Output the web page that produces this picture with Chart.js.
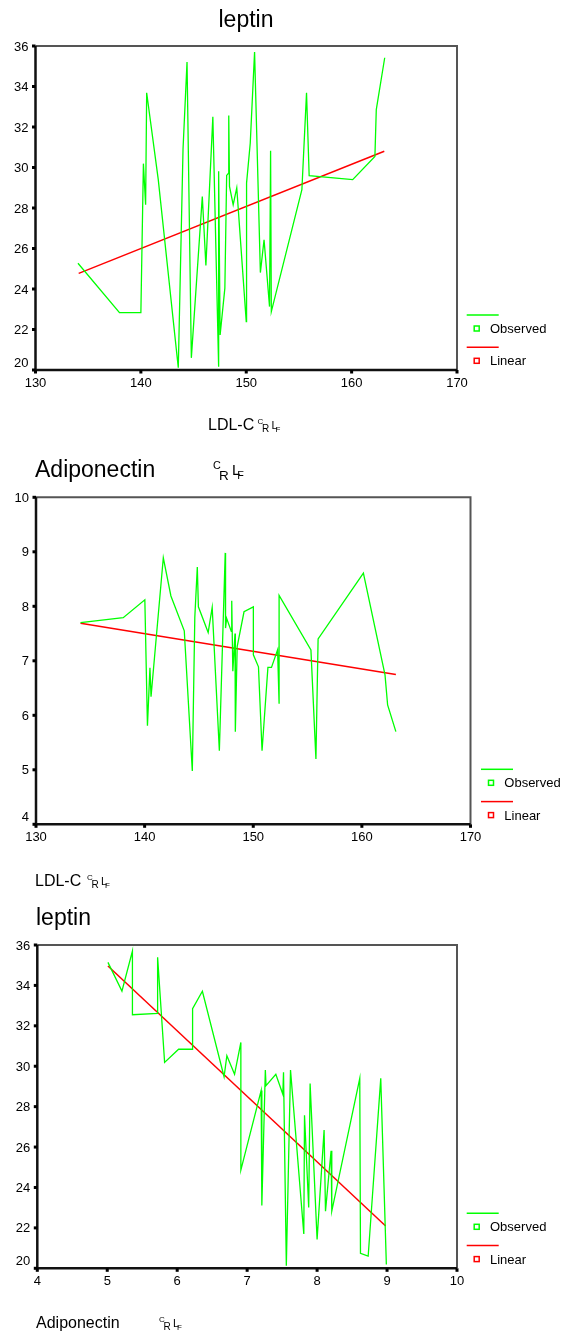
<!DOCTYPE html>
<html>
<head>
<meta charset="utf-8">
<script src="https://cdn.jsdelivr.net/npm/chart.js@4.4.0/dist/chart.umd.min.js"></script>
<style>
  html, body { margin: 0; padding: 0; background: #fff; }
  #page { position: relative; width: 569px; height: 1332px; }
  canvas { position: absolute; left: 0; }
</style>
</head>
<body>
<div id="page">
  <canvas id="c1" width="569" height="440" style="top:0"></canvas>
  <canvas id="c2" width="569" height="450" style="top:440px"></canvas>
  <canvas id="c3" width="569" height="442" style="top:890px"></canvas>
</div>
<script>
// tick labels
const ldlTicks = [130, 140, 150, 160, 170];
const leptinTicks = [20, 22, 24, 26, 28, 30, 32, 34, 36];
const adipoTicks = [4, 5, 6, 7, 8, 9, 10];

// chart 1: leptin vs LDL-C
const ldlX1 = [134.03, 137.97, 140.0, 140.24, 140.45, 140.55, 141.65, 143.55, 144.0, 144.38, 144.79, 145.83, 146.17, 146.83,
  147.38, 147.38, 147.52, 147.97, 148.14, 148.34, 148.34, 148.41, 148.76, 149.1, 150.0, 150.03, 150.38, 150.79,
  151.34, 151.69, 152.21, 152.31, 152.38, 155.28, 155.72, 155.97, 160.1, 162.21, 162.34, 163.14];
const leptinY1 = [25.27, 22.83, 22.83, 30.19, 28.16, 33.69, 29.4, 20.11, 30.9, 35.21, 20.6, 28.57, 25.16, 32.5,
  20.16, 29.81, 21.73, 24.04, 29.61, 29.73, 32.57, 29.07, 28.16, 28.99, 22.39, 29.23, 31.21, 35.7,
  24.81, 26.43, 23.13, 30.83, 22.88, 28.9, 33.69, 29.6, 29.4, 30.55, 32.86, 35.42];
const fitX1 = [134.1, 163.1];
const fitY1 = [24.77, 30.8];

// chart 2: Adiponectin vs LDL-C
const ldlX2 = [134.1, 138.03, 140.02, 140.26, 140.49, 140.59, 141.72, 142.42, 143.65, 144.39, 144.62, 144.85, 144.95,
  145.85, 146.22, 146.88, 147.42, 147.45, 147.55, 147.98, 148.02, 148.12, 148.32, 148.35, 148.52, 149.15,
  150.01, 150.01, 150.48, 150.81, 151.35, 151.68, 152.24, 152.38, 152.38, 155.31, 155.77, 155.97, 160.14,
  162.13, 162.37, 163.13];
const adipoY2 = [7.70, 7.79, 8.12, 5.81, 6.87, 6.34, 8.89, 8.19, 7.55, 4.98, 7.8, 8.72, 7.99,
  7.52, 7.98, 5.35, 8.98, 7.6, 7.78, 7.54, 8.1, 6.81, 7.5, 5.7, 7.26, 7.9,
  7.99, 7.11, 6.89, 5.35, 6.88, 6.88, 7.2, 6.21, 8.2, 7.2, 5.2, 7.4, 8.61,
  6.74, 6.19, 5.7];
const fitX2 = [134.1, 163.13];
const fitY2 = [7.69, 6.75];

// chart 3: leptin vs Adiponectin
const adipoX3 = [5.01, 5.21, 5.36, 5.36, 5.72, 5.72, 5.82, 6.02, 6.22, 6.22, 6.36, 6.67, 6.71, 6.82, 6.91, 6.91,
  7.2, 7.21, 7.26, 7.27, 7.41, 7.51, 7.52, 7.56, 7.62, 7.81, 7.82, 7.88, 7.9, 8.0, 8.1, 8.12, 8.2, 8.21,
  8.61, 8.62, 8.73, 8.91, 8.99];
const leptinY3 = [35.14, 33.72, 35.7, 32.55, 32.62, 35.39, 30.19, 30.84, 30.84, 32.85, 33.71, 29.48, 30.52, 29.6, 31.18, 24.86,
  28.8, 23.11, 29.81, 29.04, 29.6, 28.61, 29.7, 20.13, 29.81, 21.7, 27.57, 23.01, 29.15, 21.43, 26.84, 22.83, 25.82, 22.83,
  29.4, 20.74, 20.6, 29.4, 20.19];
const fitX3 = [5.01, 8.98];
const fitY3 = [34.96, 22.09];

const FONT = '"Liberation Sans", Arial, sans-serif';
const toPoints = (xs, ys) => xs.map((x, i) => ({ x: x, y: ys[i] }));

// the odd little glyphs after the axis names
function drawSuffix(ctx, x, base, k) {
  const parts = [['C', 0, -6, 8], ['R', 4.5, 2, 10], ['L', 14, -1.5, 11], ['F', 18, 1.5, 8]];
  parts.forEach(p => {
    ctx.font = (p[3] * k) + 'px ' + FONT;
    ctx.fillText(p[0], x + p[1] * k, base + p[2] * k);
  });
}

// SPSS style frame, ticks, titles and legend
const frame = {
  id: 'frame',
  afterDatasetsDraw(chart, args, o) {
    const { ctx, chartArea: a, scales: { x, y } } = chart;
    ctx.save();
    ctx.lineWidth = 2;
    ctx.strokeStyle = '#555';
    ctx.beginPath();
    ctx.moveTo(a.left, a.top); ctx.lineTo(a.right, a.top); ctx.lineTo(a.right, a.bottom);
    ctx.stroke();
    ctx.lineWidth = 2.5;
    ctx.strokeStyle = '#111';
    ctx.beginPath();
    ctx.moveTo(a.left, a.top); ctx.lineTo(a.left, a.bottom); ctx.lineTo(a.right, a.bottom);
    ctx.stroke();

    ctx.fillStyle = '#000';
    ctx.font = '13px ' + FONT;
    ctx.textAlign = 'right';
    ctx.textBaseline = 'middle';
    o.yTicks.forEach((v, i) => {
      const py = y.getPixelForValue(v);
      ctx.fillRect(a.left - 3.5, py - 1.5, 3.5, 3);
      ctx.fillText(String(v), a.left - 7, py + (i === 0 ? -7 : 1));
    });
    ctx.textAlign = 'center';
    o.xTicks.forEach(v => {
      const px = x.getPixelForValue(v);
      ctx.fillRect(px - 1.5, a.bottom, 3, 3.5);
      ctx.fillText(String(v), px, a.bottom + 13);
    });

    // titles
    ctx.textBaseline = 'alphabetic';
    const t = o.title;
    ctx.font = t.size + 'px ' + FONT;
    ctx.textAlign = t.align;
    ctx.fillText(t.text, t.x, t.y);
    ctx.textAlign = 'left';
    if (t.suffix) drawSuffix(ctx, t.suffix, t.y, t.k);
    const xt = o.xTitle;
    ctx.font = xt.size + 'px ' + FONT;
    ctx.fillText(xt.text, xt.x, xt.y);
    drawSuffix(ctx, xt.suffix, xt.y, 1);

    // legend
    const lg = o.legend;
    ctx.font = '13px ' + FONT;
    ctx.textBaseline = 'middle';
    chart.data.datasets.forEach((ds, i) => {
      const ly = lg.y + i * 32.3;
      ctx.strokeStyle = ds.borderColor;
      ctx.lineWidth = 1.5;
      ctx.beginPath();
      ctx.moveTo(lg.x, ly); ctx.lineTo(lg.x + 32, ly);
      ctx.stroke();
      ctx.strokeRect(lg.x + 7.5, ly + 11, 5, 5);
      ctx.fillStyle = '#000';
      ctx.fillText(ds.label, lg.x + 23.3, ly + 14.5);
    });
    ctx.restore();
  }
};

function makeChart(id, obs, fit, xr, yr, pad, frameOpts) {
  return new Chart(document.getElementById(id), {
    type: 'scatter',
    data: {
      datasets: [
        { label: 'Observed', data: obs, showLine: true, borderColor: '#00ff00', borderWidth: 1.3, pointRadius: 0, tension: 0 },
        { label: 'Linear', data: fit, showLine: true, borderColor: '#ff0000', borderWidth: 1.5, pointRadius: 0, tension: 0 }
      ]
    },
    options: {
      responsive: false,
      animation: false,
      events: [],
      layout: { padding: pad, autoPadding: false },
      scales: {
        x: { type: 'linear', display: false, min: xr[0], max: xr[1] },
        y: { type: 'linear', display: false, min: yr[0], max: yr[1] }
      },
      plugins: {
        legend: { display: false },
        tooltip: { enabled: false },
        frame: frameOpts
      }
    },
    plugins: [frame]
  });
}

makeChart('c1', toPoints(ldlX1, leptinY1), toPoints(fitX1, fitY1), [130, 170], [20, 36],
  { left: 35.5, top: 46, right: 112, bottom: 70 },
  {
    xTicks: ldlTicks, yTicks: leptinTicks,
    title: { text: 'leptin', x: 246, y: 27, align: 'center', size: 23 },
    xTitle: { text: 'LDL-C', x: 208, y: 430, size: 16, suffix: 257.5 },
    legend: { x: 466.7, y: 315 }
  });

makeChart('c2', toPoints(ldlX2, adipoY2), toPoints(fitX2, fitY2), [130, 170], [4, 10],
  { left: 36, top: 57.3, right: 98.5, bottom: 65.7 },
  {
    xTicks: ldlTicks, yTicks: adipoTicks,
    title: { text: 'Adiponectin', x: 35, y: 37.3, align: 'left', size: 23, suffix: 213, k: 1.35 },
    xTitle: { text: 'LDL-C', x: 35, y: 446, size: 16, suffix: 87 },
    legend: { x: 481, y: 329.3 }
  });

makeChart('c3', toPoints(adipoX3, leptinY3), toPoints(fitX3, fitY3), [4, 10], [20, 36],
  { left: 37.3, top: 55, right: 112, bottom: 63.7 },
  {
    xTicks: adipoTicks, yTicks: leptinTicks,
    title: { text: 'leptin', x: 36, y: 35, align: 'left', size: 23 },
    xTitle: { text: 'Adiponectin', x: 36, y: 438.3, size: 16, suffix: 159 },
    legend: { x: 466.7, y: 323.3 }
  });
</script>
</body>
</html>
